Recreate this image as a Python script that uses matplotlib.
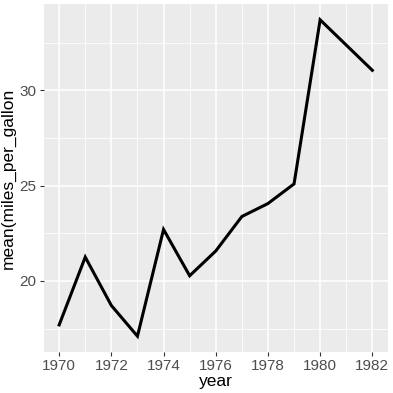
import matplotlib
matplotlib.use("Agg")
import matplotlib.pyplot as plt
from matplotlib.ticker import MultipleLocator

# mean miles per gallon by model year
years = [1970, 1971, 1972, 1973, 1974, 1975, 1976, 1977, 1978, 1979, 1980, 1982]
mpg = [17.69, 21.25, 18.71, 17.10, 22.70, 20.27, 21.57, 23.38, 24.06, 25.09, 33.70, 31.05]

plt.rcParams.update({
    "font.family": ["Liberation Sans", "DejaVu Sans"],
})

fig = plt.figure(figsize=(3.93, 3.93), dpi=100)
ax = fig.add_axes([43.5 / 393, 41 / 393, 344.5 / 393, 348 / 393])

ax.set_facecolor("#EBEBEB")
ax.plot(years, mpg, color="black", linewidth=2.2, solid_joinstyle="miter", zorder=3)

# ggplot-style expansion
xmin, xmax = min(years), max(years)
ymin, ymax = min(mpg), max(mpg)
xp = (xmax - xmin) * 0.05
yp = (ymax - ymin) * 0.05
ax.set_xlim(xmin - xp, xmax + xp)
ax.set_ylim(ymin - yp, ymax + yp)

ax.xaxis.set_major_locator(MultipleLocator(2))
ax.xaxis.set_minor_locator(MultipleLocator(1))
ax.yaxis.set_major_locator(MultipleLocator(5))
ax.yaxis.set_minor_locator(MultipleLocator(2.5))

ax.grid(which="major", color="white", linewidth=1.1)
ax.grid(which="minor", color="white", linewidth=0.55)
ax.set_axisbelow(True)

for s in ax.spines.values():
    s.set_visible(False)

ax.tick_params(which="major", length=3, width=0.8, color="#333333",
               labelsize=11, labelcolor="#4D4D4D", pad=2)
ax.tick_params(which="minor", length=0)

ax.set_xlabel("year", fontsize=12.5, labelpad=1)
ax.set_ylabel("mean(miles_per_gallon", fontsize=12.5, labelpad=3)

fig.savefig("out.png", dpi=100)
